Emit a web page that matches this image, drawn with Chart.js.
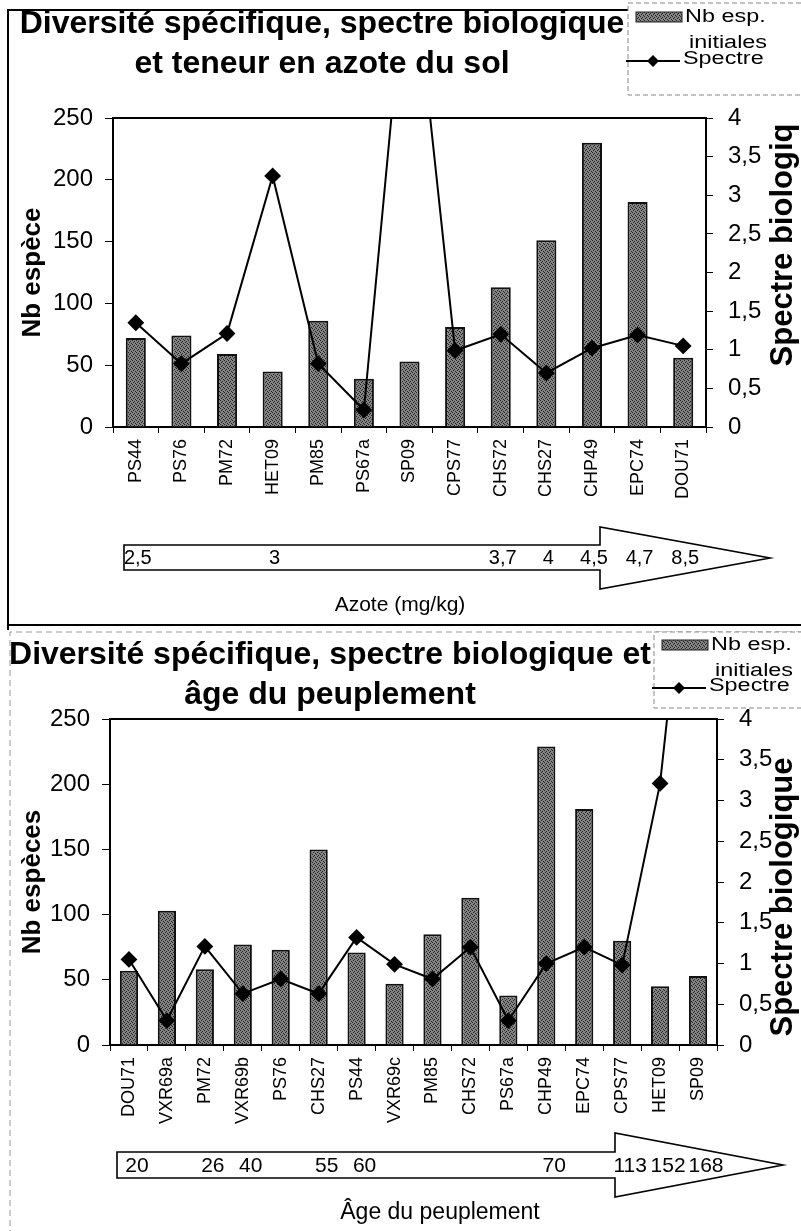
<!DOCTYPE html>
<html>
<head>
<meta charset="utf-8">
<script src="https://cdn.jsdelivr.net/npm/chart.js@4.4.1/dist/chart.umd.min.js"></script>
<style>
  html, body { margin: 0; padding: 0; background: #fff; }
  #page { position: relative; width: 801px; height: 1231px; overflow: hidden; }
  .box { position: absolute; left: 0; width: 801px; }
</style>
</head>
<body>
<div id="page">
  <div class="box" style="top:0;height:630px"><canvas id="chartAzote"></canvas></div>
  <div class="box" style="top:630px;height:601px"><canvas id="chartAge"></canvas></div>
</div>
<script>
// --- chart 1 : sites sorted by soil nitrogen ---
const sitesAzote = ['PS44', 'PS76', 'PM72', 'HET09', 'PM85', 'PS67a', 'SP09', 'CPS77', 'CHS72', 'CHS27', 'CHP49', 'EPC74', 'DOU71'];
const nbEspAzote = [72, 74, 59, 45, 86, 39, 53, 81, 113, 151, 230, 182, 56];
const spectreAzote = [1.35, 0.82, 1.21, 3.25, 0.82, 0.22, 6.5, 0.99, 1.2, 0.7, 1.02, 1.19, 1.05];
const azoteLabels = ['2,5', '', '', '3', '', '', '', '', '3,7', '4', '4,5', '4,7', '8,5'];

// --- chart 2 : sites sorted by stand age ---
const sitesAge = ['DOU71', 'VXR69a', 'PM72', 'VXR69b', 'PS76', 'CHS27', 'PS44', 'VXR69c', 'PM85', 'CHS72', 'PS67a', 'CHP49', 'EPC74', 'CPS77', 'HET09', 'SP09'];
const nbEspAge = [57, 103, 58, 77, 73, 150, 71, 47, 85, 113, 38, 229, 181, 80, 45, 53];
const spectreAge = [1.05, 0.3, 1.21, 0.63, 0.81, 0.63, 1.32, 0.99, 0.81, 1.2, 0.3, 1.0, 1.2, 0.98, 3.21, 7.5];
const ageLabels = ['20', '', '26', '40', '', '55', '60', '', '', '', '', '70', '', '113', '152', '168'];

const leftTicks = [0, 50, 100, 150, 200, 250];
const rightTicks = [0, 0.5, 1, 1.5, 2, 2.5, 3, 3.5, 4];

const FONT = "'Liberation Sans', Arial, sans-serif";
Chart.defaults.font.family = FONT;
Chart.defaults.color = '#000';

// dithered grey like the scanned bars
function greyPattern() {
  const c = document.createElement('canvas');
  c.width = 4; c.height = 4;
  const g = c.getContext('2d');
  g.fillStyle = '#848484';
  g.fillRect(0, 0, 4, 4);
  g.fillStyle = '#222222';
  [[0, 0], [2, 1], [1, 2], [3, 3]].forEach(p => g.fillRect(p[0], p[1], 1, 1));
  return g.createPattern(c, 'repeat');
}
const barFill = greyPattern();

function stretchText(ctx, t, x, y, k) {
  ctx.save();
  ctx.translate(x, y);
  ctx.scale(k, 1);
  ctx.fillText(t, 0, 0);
  ctx.restore();
}

const decor = {
  id: 'decor',
  afterDraw(chart, args, o) {
    const ctx = chart.ctx;
    const ca = chart.chartArea;
    const x = chart.scales.x;
    ctx.save();

    // outer frame
    ctx.strokeStyle = o.frame.color;
    ctx.lineWidth = o.frame.width;
    ctx.setLineDash(o.frame.dash);
    ctx.beginPath();
    ctx.moveTo(o.frame.left, chart.height + 5);
    ctx.lineTo(o.frame.left, o.frame.top);
    ctx.lineTo(chart.width + 5, o.frame.top);
    if (o.frame.bottom) {
      ctx.moveTo(o.frame.left, o.frame.bottom);
      ctx.lineTo(chart.width + 5, o.frame.bottom);
    }
    ctx.stroke();
    ctx.setLineDash([]);

    // top edge of plot area
    ctx.strokeStyle = '#000';
    ctx.lineWidth = 2;
    ctx.beginPath();
    ctx.moveTo(ca.left, ca.top);
    ctx.lineTo(ca.right, ca.top);
    ctx.stroke();

    // legend
    const lg = o.legend;
    ctx.fillStyle = '#fff';
    ctx.fillRect(lg.x, lg.y, lg.w, lg.h);
    ctx.strokeStyle = '#888';
    ctx.lineWidth = 1;
    ctx.setLineDash([5, 3]);
    ctx.strokeRect(lg.x, lg.y, lg.w, lg.h);
    ctx.setLineDash([]);
    ctx.fillStyle = barFill;
    ctx.fillRect(lg.x + 8, lg.row1 - 5, 46, 10);
    ctx.strokeStyle = '#222';
    ctx.strokeRect(lg.x + 8, lg.row1 - 5, 46, 10);
    ctx.strokeStyle = '#000';
    ctx.lineWidth = 2;
    ctx.beginPath();
    ctx.moveTo(lg.x - 2, lg.row3 + 2);
    ctx.lineTo(lg.x + 52, lg.row3 + 2);
    ctx.stroke();
    ctx.fillStyle = '#000';
    ctx.beginPath();
    const dx = lg.x + 25, dy = lg.row3 + 2;
    ctx.moveTo(dx, dy - 6); ctx.lineTo(dx + 6, dy); ctx.lineTo(dx, dy + 6); ctx.lineTo(dx - 6, dy);
    ctx.closePath();
    ctx.fill();
    ctx.font = lg.size + 'px ' + FONT;
    ctx.textAlign = 'left';
    ctx.textBaseline = 'middle';
    stretchText(ctx, lg.lines[0][0], lg.x + 57, lg.row1, lg.stretch);
    stretchText(ctx, lg.lines[0][1], lg.x + 61, lg.row2, lg.stretch);
    stretchText(ctx, lg.lines[1][0], lg.x + 55, lg.row3, lg.stretch);

    // title
    ctx.fillStyle = '#000';
    ctx.textAlign = 'center';
    ctx.font = 'bold ' + o.title.size + 'px ' + FONT;
    o.title.lines.forEach((t, i) => ctx.fillText(t, o.title.cx, o.title.ys[i]));

    // right axis title, read bottom to top
    ctx.save();
    ctx.font = 'bold ' + o.rightTitle.size + 'px ' + FONT;
    ctx.translate(o.rightTitle.x, o.rightTitle.cy);
    ctx.rotate(-Math.PI / 2);
    ctx.textAlign = 'center';
    ctx.fillText(o.rightTitle.text, 0, 0);
    ctx.restore();

    // gradient arrow
    const a = o.arrow;
    ctx.beginPath();
    ctx.moveTo(a.x0, a.top);
    ctx.lineTo(a.headX, a.top);
    ctx.lineTo(a.headX, a.headTop);
    ctx.lineTo(a.tipX, (a.headTop + a.headBottom) / 2);
    ctx.lineTo(a.headX, a.headBottom);
    ctx.lineTo(a.headX, a.bottom);
    ctx.lineTo(a.x0, a.bottom);
    ctx.closePath();
    ctx.fillStyle = '#fff';
    ctx.fill();
    ctx.strokeStyle = '#000';
    ctx.lineWidth = 1.6;
    ctx.stroke();

    ctx.fillStyle = '#000';
    ctx.font = a.size + 'px ' + FONT;
    ctx.textAlign = 'center';
    ctx.textBaseline = 'middle';
    a.labels.forEach((t, i) => {
      if (t) ctx.fillText(t, x.getPixelForValue(i) + a.shift, (a.top + a.bottom) / 2 + 1);
    });

    ctx.font = o.caption.size + 'px ' + FONT;
    ctx.fillText(o.caption.text, o.caption.cx, o.caption.cy);
    ctx.restore();
  }
};

function makeChart(id, cfg) {
  const rightFmt = v => String(v).replace('.', ',');
  return new Chart(document.getElementById(id), {
    data: {
      labels: cfg.labels,
      datasets: [
        {
          type: 'line',
          label: 'Spectre',
          data: cfg.spectre,
          yAxisID: 'y1',
          order: 0,
          borderColor: '#000',
          borderWidth: 2,
          tension: 0,
          pointStyle: 'rectRot',
          pointRadius: 7,
          pointBackgroundColor: '#000',
          pointBorderColor: '#000'
        },
        {
          type: 'bar',
          label: 'Nb esp. initiales',
          data: cfg.nbEsp,
          yAxisID: 'y',
          order: 1,
          backgroundColor: barFill,
          borderColor: '#111',
          borderWidth: 2,
          categoryPercentage: 1,
          barPercentage: cfg.barPct
        }
      ]
    },
    options: {
      responsive: true,
      maintainAspectRatio: false,
      animation: false,
      layout: { padding: { top: cfg.top, left: 0, right: 0, bottom: 0 } },
      plugins: {
        legend: { display: false },
        title: { display: false },
        tooltip: { enabled: false },
        decor: cfg.decor
      },
      scales: {
        x: {
          grid: { drawOnChartArea: false, drawTicks: true, tickLength: 6, color: '#000' },
          border: { color: '#000', width: 2 },
          ticks: { autoSkip: false, minRotation: 90, maxRotation: 90, padding: 6, font: { size: 18 } },
          afterFit: s => { s.height = cfg.xHeight; }
        },
        y: {
          position: 'left',
          min: 0,
          max: 250,
          afterBuildTicks: s => { s.ticks = leftTicks.map(v => ({ value: v })); },
          grid: { drawOnChartArea: false, tickLength: 8, color: '#000' },
          border: { color: '#000', width: 2 },
          ticks: { padding: 12, font: { size: 24 } },
          title: { display: true, text: cfg.leftTitle, font: { size: 26, weight: 'bold' }, padding: { top: 17 } },
          afterFit: s => { s.width = cfg.leftWidth; }
        },
        y1: {
          position: 'right',
          min: 0,
          max: 4,
          afterBuildTicks: s => { s.ticks = rightTicks.map(v => ({ value: v })); },
          grid: { drawOnChartArea: false, tickLength: 7, color: '#000' },
          border: { color: '#000', width: 2 },
          ticks: { padding: 15, font: { size: 24 }, callback: rightFmt },
          afterFit: s => { s.width = cfg.rightWidth; }
        }
      }
    },
    plugins: [decor]
  });
}

makeChart('chartAzote', {
  labels: sitesAzote,
  nbEsp: nbEspAzote,
  spectre: spectreAzote,
  barPct: 0.44,
  top: 118,
  xHeight: 203,
  leftWidth: 113,
  rightWidth: 95,
  leftTitle: 'Nb espèce',
  decor: {
    frame: { color: '#000', width: 2, dash: [], left: 8, top: 10, bottom: 625 },
    title: { size: 32, cx: 322, ys: [24, 64], lines: ['Diversité spécifique, spectre biologique', 'et teneur en azote du sol'] },
    legend: { x: 628, y: 3, w: 180, h: 92, size: 18, stretch: 1.3, row1: 17, row2: 43, row3: 59, lines: [['Nb esp.', 'initiales'], ['Spectre']] },
    rightTitle: { text: 'Spectre biologiq', x: 783, cy: 245, size: 31 },
    arrow: { x0: 124, top: 545, bottom: 570, headX: 600, headTop: 527, headBottom: 589, tipX: 770, size: 20, shift: 2, labels: azoteLabels },
    caption: { text: 'Azote (mg/kg)', cx: 400, cy: 605, size: 21 }
  }
});

makeChart('chartAge', {
  labels: sitesAge,
  nbEsp: nbEspAge,
  spectre: spectreAge,
  barPct: 0.48,
  top: 89,
  xHeight: 186,
  leftWidth: 110,
  rightWidth: 84,
  leftTitle: 'Nb espèces',
  decor: {
    frame: { color: '#999', width: 1, dash: [6, 4], left: 10, top: 2, bottom: null },
    title: { size: 32, cx: 330, ys: [25, 65], lines: ['Diversité spécifique, spectre biologique et', 'âge du peuplement'] },
    legend: { x: 654, y: 2, w: 160, h: 76, size: 18, stretch: 1.3, row1: 15, row2: 41, row3: 56, lines: [['Nb esp.', 'initiales'], ['Spectre']] },
    rightTitle: { text: 'Spectre biologique', x: 783, cy: 267, size: 31 },
    arrow: { x0: 117, top: 522, bottom: 548, headX: 615, headTop: 503, headBottom: 567, tipX: 783, size: 21, shift: 8, labels: ageLabels },
    caption: { text: 'Âge du peuplement', cx: 440, cy: 583, size: 23 }
  }
});
</script>
</body>
</html>
